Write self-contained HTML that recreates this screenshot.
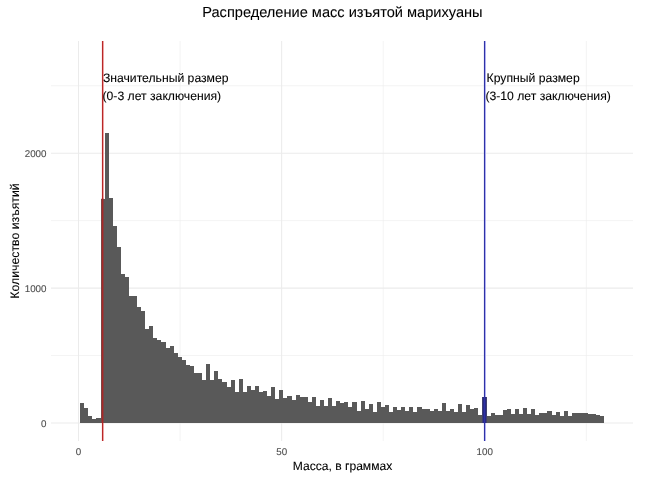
<!DOCTYPE html>
<html><head><meta charset="utf-8"><style>
html,body{margin:0;padding:0;background:#fff;width:648px;height:478px;overflow:hidden}
svg{display:block;will-change:transform}
text{font-family:"Liberation Sans", sans-serif;text-rendering:geometricPrecision}
.k{stroke:#000;stroke-width:0.08px}
.g{stroke:#4D4D4D;stroke-width:0.1px}
</style></head><body>
<svg width="648" height="478" viewBox="0 0 648 478">
<rect width="648" height="478" fill="#fff"/>
<line x1="78.50" y1="41" x2="78.50" y2="441" stroke="#EBEBEB" stroke-width="1.07"/>
<line x1="281.65" y1="41" x2="281.65" y2="441" stroke="#EBEBEB" stroke-width="1.07"/>
<line x1="484.80" y1="41" x2="484.80" y2="441" stroke="#EBEBEB" stroke-width="1.07"/>
<line x1="180.07" y1="41" x2="180.07" y2="441" stroke="#EBEBEB" stroke-width="0.6"/>
<line x1="383.22" y1="41" x2="383.22" y2="441" stroke="#EBEBEB" stroke-width="0.6"/>
<line x1="586.38" y1="41" x2="586.38" y2="441" stroke="#EBEBEB" stroke-width="0.6"/>
<line x1="51" y1="423.00" x2="633" y2="423.00" stroke="#EBEBEB" stroke-width="1.07"/>
<line x1="51" y1="288.10" x2="633" y2="288.10" stroke="#EBEBEB" stroke-width="1.07"/>
<line x1="51" y1="153.20" x2="633" y2="153.20" stroke="#EBEBEB" stroke-width="1.07"/>
<line x1="51" y1="355.55" x2="633" y2="355.55" stroke="#EBEBEB" stroke-width="0.6"/>
<line x1="51" y1="220.65" x2="633" y2="220.65" stroke="#EBEBEB" stroke-width="0.6"/>
<line x1="51" y1="85.75" x2="633" y2="85.75" stroke="#EBEBEB" stroke-width="0.6"/>
<line x1="103.50" y1="41" x2="103.50" y2="441" stroke="#F2AEAE" stroke-width="1.0"/>
<line x1="485.50" y1="41" x2="485.50" y2="441" stroke="#BCBCF8" stroke-width="1.0"/>
<path d="M80.23 423V403.20H84.29V423ZM84.29 423V408.10H88.36V423ZM88.36 423V416.10H92.42V423ZM92.42 423V419.20H96.48V423ZM96.48 423V418.10H100.55V423ZM100.55 423V198.50H104.61V423ZM104.61 423V133.40H108.67V423ZM108.67 423V198.30H112.74V423ZM112.74 423V225.80H116.80V423ZM116.80 423V246.90H120.86V423ZM120.86 423V274.00H124.92V423ZM124.92 423V277.00H128.99V423ZM128.99 423V295.50H133.05V423ZM133.05 423V295.50H137.11V423ZM137.11 423V307.00H141.18V423ZM141.18 423V310.70H145.24V423ZM145.24 423V329.00H149.30V423ZM149.30 423V325.60H153.37V423ZM153.37 423V337.60H157.43V423ZM157.43 423V339.60H161.49V423ZM161.49 423V342.40H165.55V423ZM165.55 423V348.20H169.62V423ZM169.62 423V346.20H173.68V423ZM173.68 423V352.80H177.74V423ZM177.74 423V356.60H181.81V423ZM181.81 423V359.70H185.87V423ZM185.87 423V365.20H189.93V423ZM189.93 423V365.80H194.00V423ZM194.00 423V373.30H198.06V423ZM198.06 423V372.60H202.12V423ZM202.12 423V380.10H206.18V423ZM206.18 423V364.20H210.25V423ZM210.25 423V380.10H214.31V423ZM214.31 423V371.30H218.37V423ZM218.37 423V379.40H222.44V423ZM222.44 423V381.90H226.50V423ZM226.50 423V387.30H230.56V423ZM230.56 423V380.10H234.63V423ZM234.63 423V391.70H238.69V423ZM238.69 423V379.20H242.75V423ZM242.75 423V392.10H246.81V423ZM246.81 423V386.00H250.88V423ZM250.88 423V390.00H254.94V423ZM254.94 423V386.00H259.00V423ZM259.00 423V392.00H263.07V423ZM263.07 423V391.40H267.13V423ZM267.13 423V396.10H271.19V423ZM271.19 423V387.20H275.26V423ZM275.26 423V398.80H279.32V423ZM279.32 423V390.00H283.38V423ZM283.38 423V398.20H287.44V423ZM287.44 423V395.80H291.51V423ZM291.51 423V400.30H295.57V423ZM295.57 423V395.30H299.63V423ZM299.63 423V397.40H303.70V423ZM303.70 423V397.20H307.76V423ZM307.76 423V402.30H311.82V423ZM311.82 423V397.40H315.89V423ZM315.89 423V405.60H319.95V423ZM319.95 423V399.60H324.01V423ZM324.01 423V406.00H328.07V423ZM328.07 423V398.00H332.14V423ZM332.14 423V405.80H336.20V423ZM336.20 423V401.40H340.26V423ZM340.26 423V403.40H344.33V423ZM344.33 423V402.40H348.39V423ZM348.39 423V407.20H352.45V423ZM352.45 423V402.40H356.52V423ZM356.52 423V411.00H360.58V423ZM360.58 423V401.00H364.64V423ZM364.64 423V409.20H368.70V423ZM368.70 423V404.20H372.77V423ZM372.77 423V411.90H376.83V423ZM376.83 423V402.10H380.89V423ZM380.89 423V407.20H384.96V423ZM384.96 423V405.30H389.02V423ZM389.02 423V411.50H393.08V423ZM393.08 423V406.50H397.15V423ZM397.15 423V410.20H401.21V423ZM401.21 423V407.20H405.27V423ZM405.27 423V411.20H409.33V423ZM409.33 423V407.20H413.40V423ZM413.40 423V412.00H417.46V423ZM417.46 423V406.50H421.52V423ZM421.52 423V409.20H425.59V423ZM425.59 423V408.80H429.65V423ZM429.65 423V411.00H433.71V423ZM433.71 423V408.90H437.78V423ZM437.78 423V411.20H441.84V423ZM441.84 423V402.80H445.90V423ZM445.90 423V410.60H449.96V423ZM449.96 423V408.50H454.03V423ZM454.03 423V411.60H458.09V423ZM458.09 423V404.20H462.15V423ZM462.15 423V411.90H466.22V423ZM466.22 423V405.10H470.28V423ZM470.28 423V409.20H474.34V423ZM474.34 423V408.20H478.41V423ZM478.41 423V415.30H482.47V423ZM482.47 423V397.00H486.53V423ZM486.53 423V416.00H490.59V423ZM490.59 423V412.90H494.66V423ZM494.66 423V415.30H498.72V423ZM498.72 423V415.00H502.78V423ZM502.78 423V410.30H506.85V423ZM506.85 423V408.90H510.91V423ZM510.91 423V414.20H514.97V423ZM514.97 423V409.20H519.04V423ZM519.04 423V414.20H523.10V423ZM523.10 423V408.20H527.16V423ZM527.16 423V414.00H531.22V423ZM531.22 423V409.20H535.29V423ZM535.29 423V415.00H539.35V423ZM539.35 423V413.30H543.41V423ZM543.41 423V412.90H547.48V423ZM547.48 423V411.40H551.54V423ZM551.54 423V415.30H555.60V423ZM555.60 423V411.90H559.67V423ZM559.67 423V416.00H563.73V423ZM563.73 423V411.20H567.79V423ZM567.79 423V416.00H571.85V423ZM571.85 423V413.30H575.92V423ZM575.92 423V413.40H579.98V423ZM579.98 423V412.90H584.04V423ZM584.04 423V413.40H588.11V423ZM588.11 423V413.80H592.17V423ZM592.17 423V414.00H596.23V423ZM596.23 423V415.00H600.30V423ZM600.30 423V416.10H604.36V423Z" fill="#595959" shape-rendering="crispEdges"/>
<rect x="482.47" y="397" width="4.063" height="26.00" fill="#2A2A85"/>
<line x1="102.50" y1="41" x2="102.50" y2="441" stroke="#B82828" stroke-width="1.15"/>
<line x1="102.50" y1="198.5" x2="102.50" y2="423" stroke="#A82828" stroke-width="1.8"/>
<line x1="484.50" y1="41" x2="484.50" y2="441" stroke="#2E32A6" stroke-width="1.15"/>
<text x="342.4" y="17.0" font-size="14.6" text-anchor="middle" fill="#000" class="k">Распределение масс изъятой марихуаны</text>
<text x="102.9" y="81.6" font-size="12.2" fill="#000" class="k">Значительный размер</text>
<text x="102.5" y="99.8" font-size="12.2" fill="#000" class="k">(0-3 лет заключения)</text>
<text x="486.6" y="81.6" font-size="12.2" fill="#000" class="k">Крупный размер</text>
<text x="485.4" y="99.8" font-size="12.2" fill="#000" class="k">(3-10 лет заключения)</text>
<text x="342.5" y="469.6" font-size="12.1" text-anchor="middle" fill="#000" class="k">Масса, в граммах</text>
<text transform="translate(18.8 241) rotate(-90)" x="0" y="0" font-size="12.3" text-anchor="middle" fill="#000" class="k">Количество изъятий</text>
<text x="46.5" y="426.60" font-size="9.8" text-anchor="end" fill="#4D4D4D" class="g">0</text>
<text x="46.5" y="291.70" font-size="9.8" text-anchor="end" fill="#4D4D4D" class="g">1000</text>
<text x="46.5" y="156.80" font-size="9.8" text-anchor="end" fill="#4D4D4D" class="g">2000</text>
<text x="78.50" y="454.6" font-size="9.8" text-anchor="middle" fill="#4D4D4D" class="g">0</text>
<text x="281.65" y="454.6" font-size="9.8" text-anchor="middle" fill="#4D4D4D" class="g">50</text>
<text x="484.80" y="454.6" font-size="9.8" text-anchor="middle" fill="#4D4D4D" class="g">100</text>
</svg>
</body></html>
